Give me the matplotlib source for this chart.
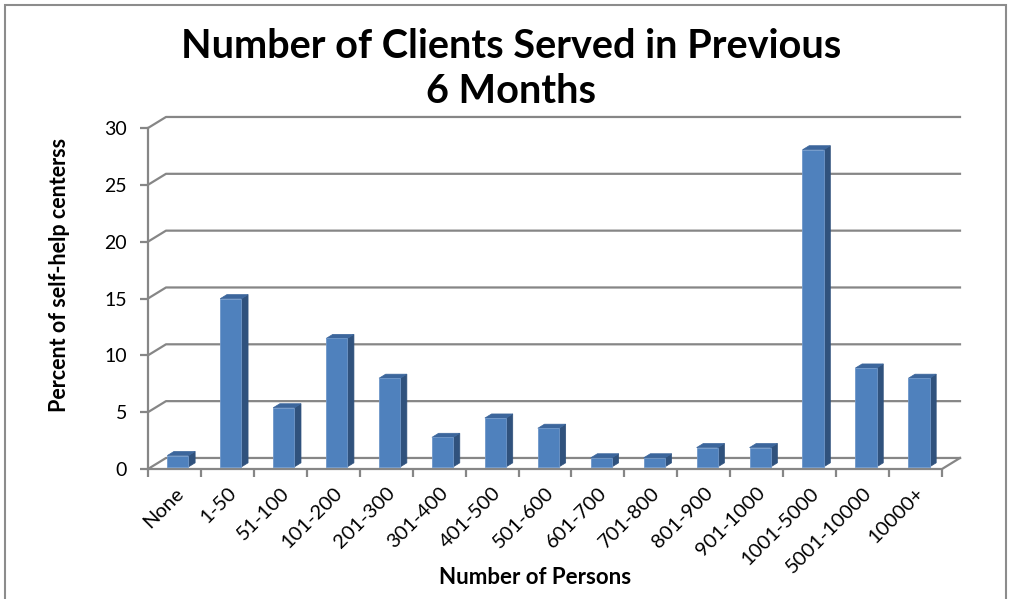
import matplotlib.pyplot as plt
from matplotlib.patches import Polygon, Rectangle

categories = ["None", "1-50", "51-100", "101-200", "201-300", "301-400", "401-500",
              "501-600", "601-700", "701-800", "801-900", "901-1000", "1001-5000",
              "5001-10000", "10000+"]
percent = [1.0, 14.8, 5.2, 11.3, 7.8, 2.6, 4.3, 3.4, 0.8, 0.8, 1.7, 1.7, 27.9, 8.7, 7.8]
yticks = [0, 5, 10, 15, 20, 25, 30]

plt.rcParams['font.family'] = ['Lato', 'DejaVu Sans']

# fake 3d: depth offset of the back wall (in data units)
dx, dy = 0.34, 0.97
f0, f1 = 0.19, 0.56     # depth range occupied by the bars
width = 0.4
grid_c = "#868686"
front_c, side_c, top_c = "#4F81BD", "#30527D", "#3C669C"

fig = plt.figure(figsize=(10.11, 5.99), dpi=100)
fig.patches.append(Rectangle((5 / 1011, -0.01), 1001 / 1011, 1 - 5 / 599 + 0.01,
                             transform=fig.transFigure, fill=False,
                             edgecolor="#8c8c8c", linewidth=1.5))

ax = fig.add_axes([148 / 1011, 1 - 469 / 599, 794 / 1011, 341 / 599])
n = len(categories)
x0, x1 = -0.5, n - 0.5
ax.set_xlim(x0, x1)
ax.set_ylim(0, 30)
for s in ax.spines.values():
    s.set_visible(False)

# walls: gridlines on back wall + diagonal on side wall
for t in yticks:
    ax.plot([x0, x0 + dx, x1 + dx], [t, t + dy, t + dy], color=grid_c, lw=1.6,
            clip_on=False, zorder=1)
# floor front edge and right diagonal
ax.plot([x0, x1, x1 + dx], [0, 0, dy], color=grid_c, lw=1.6, clip_on=False, zorder=1)
# front vertical axis
ax.plot([x0, x0], [0, 30], color=grid_c, lw=1.6, clip_on=False, zorder=1)

# bars
for i, v in enumerate(percent):
    xl = i - width / 2 + f0 * dx
    xr = xl + width
    yb = f0 * dy
    yt = yb + v
    ddx, ddy = (f1 - f0) * dx, (f1 - f0) * dy
    ax.add_patch(Polygon([(xr, yb), (xr + ddx, yb + ddy), (xr + ddx, yt + ddy), (xr, yt)],
                         closed=True, facecolor=side_c, edgecolor=side_c, lw=0.5,
                         zorder=3, clip_on=False))
    ax.add_patch(Polygon([(xl, yt), (xr, yt), (xr + ddx, yt + ddy), (xl + ddx, yt + ddy)],
                         closed=True, facecolor=top_c, edgecolor=top_c, lw=0.5,
                         zorder=3, clip_on=False))
    ax.add_patch(Rectangle((xl, yb), width, v, facecolor=front_c, edgecolor="#6F97C9",
                           lw=0.6, zorder=4, clip_on=False))

ax.set_yticks(yticks)
ax.set_yticklabels([str(t) for t in yticks], fontsize=14)
ax.tick_params(axis='y', length=6, width=1.6, color=grid_c, pad=9)

ax.set_xticks(range(n))
ax.set_xticklabels(categories, rotation=45, ha='right', rotation_mode='anchor', fontsize=14.5)
ax.set_xticks([i - 0.5 for i in range(n + 1)], minor=True)
ax.tick_params(axis='x', which='major', length=0, pad=11)
ax.tick_params(axis='x', which='minor', length=6, width=1.6, color=grid_c)

fig.text(511 / 1011, 1 - 47 / 599, "Number of Clients Served in Previous",
         ha='center', va='center', fontsize=28.5, fontweight='bold')
fig.text(511 / 1011, 1 - 91 / 599, "6 Months",
         ha='center', va='center', fontsize=28.5, fontweight='bold')
fig.text(60 / 1011, 1 - 275 / 599, "Percent of self-help centerss", rotation=90,
         ha='center', va='center', fontsize=15.5, fontweight='bold')
fig.text(535 / 1011, 1 - 578 / 599, "Number of Persons", ha='center', va='center',
         fontsize=16, fontweight='bold')

fig.savefig("out.png", dpi=100)
